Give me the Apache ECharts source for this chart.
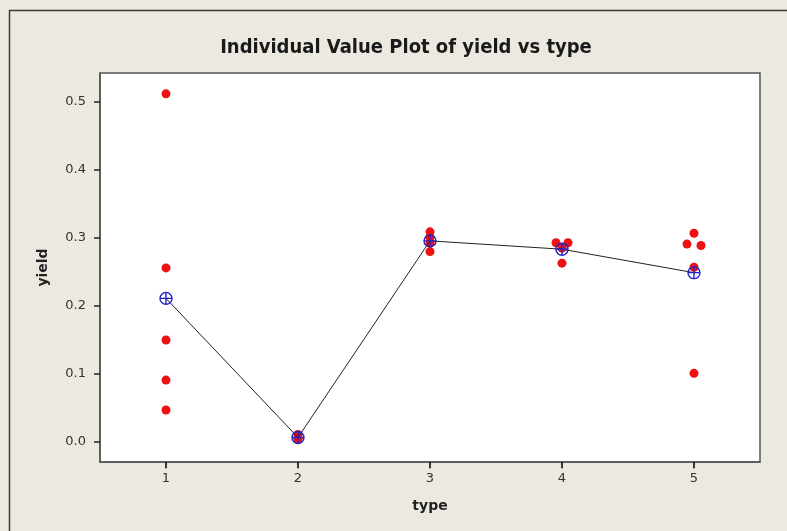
<!DOCTYPE html>
<html>
<head>
<meta charset="utf-8">
<script src="https://cdn.jsdelivr.net/npm/echarts@6/dist/echarts.min.js"></script>
<style>
  html, body { margin: 0; padding: 0; background: #ece9e0; }
  #chart { width: 787px; height: 531px; }
</style>
</head>
<body>
<div id="chart"></div>
<script>
// Observed yields for each type
const types = ['1', '2', '3', '4', '5'];
const yieldType1 = [0.512, 0.256, 0.150, 0.091, 0.047];
const yieldType2 = [0.011, 0.004, 0.005];
const yieldType3 = [0.309, 0.301, 0.293, 0.280];
const yieldType4 = [0.293, 0.293, 0.285, 0.263];
const yieldType5 = [0.307, 0.291, 0.289, 0.257, 0.101];
const yTicks = [0.0, 0.1, 0.2, 0.3, 0.4, 0.5];
const yMin = -0.0294;
const yMax = 0.5426;

const groups = [yieldType1, yieldType2, yieldType3, yieldType4, yieldType5];

// Horizontal jitter (pixels) so coincident values stay visible
const jitterPx = [
  [0, 0, 0, 0, 0],
  [0, 0, 0],
  [0, 0, 0, 0],
  [-6, 6, 0, 0],
  [0, -7, 7, 0, 0]
];

const points = [];
groups.forEach((vals, gi) => {
  vals.forEach((v, i) => {
    points.push({ value: [types[gi], v], symbolOffset: [jitterPx[gi][i], 0] });
  });
});

// Group means, joined by the connect line
const means = groups.map((vals, gi) => [types[gi], vals.reduce((a, b) => a + b, 0) / vals.length]);

const meanSymbol = 'path://M0,-10 A10,10 0 1,1 0,10 A10,10 0 1,1 0,-10 Z M-10,0 L10,0 M0,-10 L0,10';

const labelFont = { fontFamily: 'DejaVu Sans', fontSize: 13, color: '#333' };
const nameFont = { fontFamily: 'DejaVu Sans', fontWeight: 'bold', fontSize: 14, color: '#222' };
const frameLine = { show: true, onZero: false, lineStyle: { color: '#555', width: 1.5 } };
const tickStyle = { show: true, inside: false, length: 6, lineStyle: { color: '#222', width: 1.5 } };

const chart = echarts.init(document.getElementById('chart'));
chart.setOption({
  backgroundColor: '#ece9e0',
  animation: false,
  title: {
    text: 'Individual Value Plot of yield vs type',
    left: 401,
    top: 33,
    textAlign: 'center',
    textStyle: {
      fontFamily: 'DejaVu Sans Condensed, Liberation Sans Narrow, sans-serif',
      fontWeight: 'bold',
      fontSize: 20,
      color: '#1a1a1a'
    }
  },
  graphic: [{
    type: 'rect',
    shape: { x: 9.5, y: 10.5, width: 800, height: 540 },
    style: { fill: 'none', stroke: '#3a3a3a', lineWidth: 1.5 },
    z: -1
  }],
  grid: {
    left: 100, top: 73, right: 27, bottom: 69,
    show: true,
    backgroundColor: '#ffffff',
    borderColor: '#555555',
    borderWidth: 1.5
  },
  xAxis: {
    type: 'category',
    data: types,
    boundaryGap: true,
    name: 'type',
    nameLocation: 'middle',
    nameGap: 37,
    nameTextStyle: nameFont,
    axisLine: frameLine,
    axisTick: Object.assign({ alignWithLabel: true, interval: 0 }, tickStyle),
    axisLabel: Object.assign({ margin: 10, interval: 0 }, labelFont),
    splitLine: { show: false }
  },
  yAxis: {
    type: 'value',
    min: yMin,
    max: yMax,
    name: 'yield',
    nameLocation: 'middle',
    nameGap: 50,
    nameTextStyle: nameFont,
    axisLine: frameLine,
    axisTick: Object.assign({ customValues: yTicks }, tickStyle),
    axisLabel: Object.assign({ margin: 14, customValues: yTicks, formatter: v => v.toFixed(1) }, labelFont),
    splitLine: { show: false }
  },
  series: [
    {
      // tick marks hanging below the bottom frame at each type
      type: 'scatter',
      silent: true,
      clip: false,
      data: types.map(t => [t, yMin]),
      symbol: 'rect',
      symbolSize: [1.5, 6],
      symbolOffset: [0, 3.5],
      itemStyle: { color: '#222' },
      z: 1
    },
    {
      type: 'scatter',
      data: points,
      symbol: 'circle',
      symbolSize: 9,
      itemStyle: { color: '#ee1111', opacity: 1 },
      z: 2
    },
    {
      type: 'line',
      data: means,
      symbol: meanSymbol,
      symbolSize: 12,
      showSymbol: true,
      lineStyle: { color: '#222', width: 1 },
      itemStyle: { color: 'rgba(0,0,0,0)', borderColor: '#2323c8', borderWidth: 1.4 },
      z: 3
    }
  ]
});
</script>
</body>
</html>
